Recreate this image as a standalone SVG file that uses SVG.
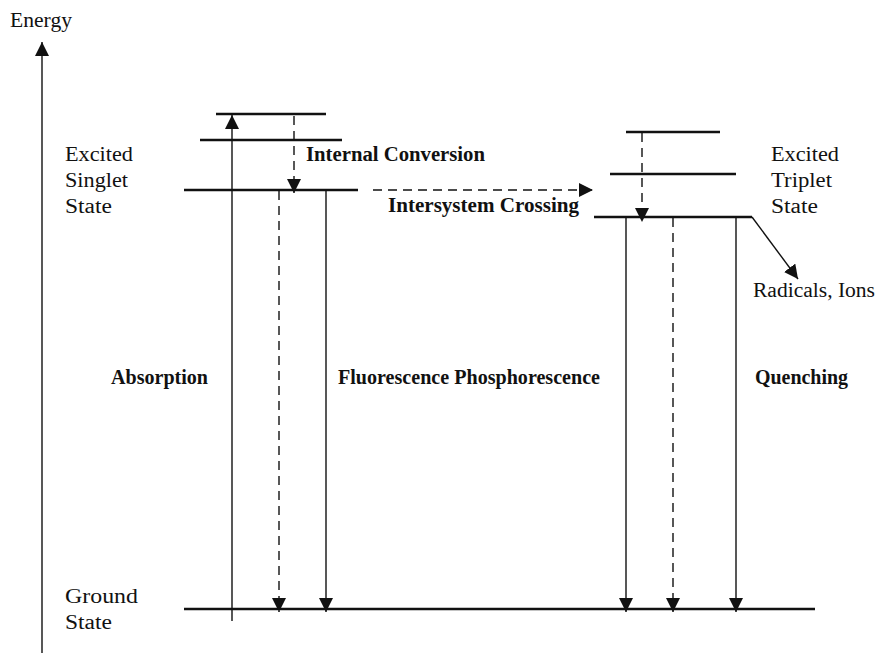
<svg xmlns="http://www.w3.org/2000/svg" width="889" height="653" viewBox="0 0 889 653">
<defs>
<marker id="ah" markerUnits="userSpaceOnUse" markerWidth="14" markerHeight="14" viewBox="0 0 12 12" refX="12" refY="6" orient="auto">
<path d="M0,0 L12,6 L0,12 Z" fill="#111"/>
</marker>
</defs>
<style>
.lvl{stroke:#111;stroke-width:2.6;fill:none}
.tr{stroke:#111;stroke-width:1.4;fill:none}
.dash{stroke-dasharray:9,6}
text{font-family:'Liberation Serif','DejaVu Serif',serif;font-size:20px;fill:#111}
.b{font-weight:bold}
</style>
<rect width="889" height="653" fill="#fff"/>
<g id="axis">
<line class="tr" x1="42" y1="653" x2="42" y2="42" marker-end="url(#ah)" stroke-width="1.6"/>
<text x="10" y="27" textLength="62" lengthAdjust="spacingAndGlyphs">Energy</text>
</g>
<g id="singlet">
<line class="lvl" x1="216" y1="114" x2="326" y2="114"/>
<line class="lvl" x1="200" y1="140" x2="342" y2="140"/>
<line class="lvl" x1="184" y1="190" x2="358" y2="190"/>
<text x="65" y="161" textLength="68" lengthAdjust="spacingAndGlyphs">Excited</text>
<text x="65" y="187" textLength="63" lengthAdjust="spacingAndGlyphs">Singlet</text>
<text x="65" y="213" textLength="47" lengthAdjust="spacingAndGlyphs">State</text>
</g>
<g id="triplet">
<line class="lvl" x1="626" y1="132" x2="720" y2="132"/>
<line class="lvl" x1="610" y1="174" x2="736" y2="174"/>
<line class="lvl" x1="594" y1="217" x2="752" y2="217"/>
<text x="771" y="161" textLength="68" lengthAdjust="spacingAndGlyphs">Excited</text>
<text x="771" y="187" textLength="61" lengthAdjust="spacingAndGlyphs">Triplet</text>
<text x="771" y="213" textLength="47" lengthAdjust="spacingAndGlyphs">State</text>
</g>
<g id="ground">
<line class="lvl" x1="184" y1="609" x2="815" y2="609"/>
<text x="65" y="603" textLength="73" lengthAdjust="spacingAndGlyphs">Ground</text>
<text x="65" y="629" textLength="47" lengthAdjust="spacingAndGlyphs">State</text>
</g>
<g id="radicals">
<text x="753" y="297" textLength="122" lengthAdjust="spacingAndGlyphs">Radicals, Ions</text>
</g>
<g id="connectors">
<line class="tr" x1="232" y1="621" x2="232" y2="115" marker-end="url(#ah)"/>
<line class="tr dash" x1="294" y1="116" x2="294" y2="193" marker-end="url(#ah)"/>
<line class="tr dash" x1="279" y1="191" x2="279" y2="612" marker-end="url(#ah)"/>
<line class="tr" x1="326" y1="191" x2="326" y2="612" marker-end="url(#ah)"/>
<line class="tr dash" x1="373" y1="190" x2="593" y2="190" marker-end="url(#ah)"/>
<line class="tr dash" x1="642" y1="133" x2="642" y2="222" marker-end="url(#ah)"/>
<line class="tr" x1="626" y1="218" x2="626" y2="612" marker-end="url(#ah)"/>
<line class="tr dash" x1="673" y1="218" x2="673" y2="612" marker-end="url(#ah)"/>
<line class="tr" x1="736" y1="218" x2="736" y2="612" marker-end="url(#ah)"/>
<line class="tr" x1="752" y1="217" x2="798" y2="279" marker-end="url(#ah)"/>
</g>
<g id="labels">
<text class="b" x="306" y="161" textLength="179" lengthAdjust="spacingAndGlyphs">Internal Conversion</text>
<text class="b" x="388" y="212" textLength="191" lengthAdjust="spacingAndGlyphs">Intersystem Crossing</text>
<text class="b" x="111" y="384" textLength="97" lengthAdjust="spacingAndGlyphs">Absorption</text>
<text class="b" x="338" y="384" textLength="262" lengthAdjust="spacingAndGlyphs">Fluorescence Phosphorescence</text>
<text class="b" x="755" y="384" textLength="93" lengthAdjust="spacingAndGlyphs">Quenching</text>
</g>
</svg>
